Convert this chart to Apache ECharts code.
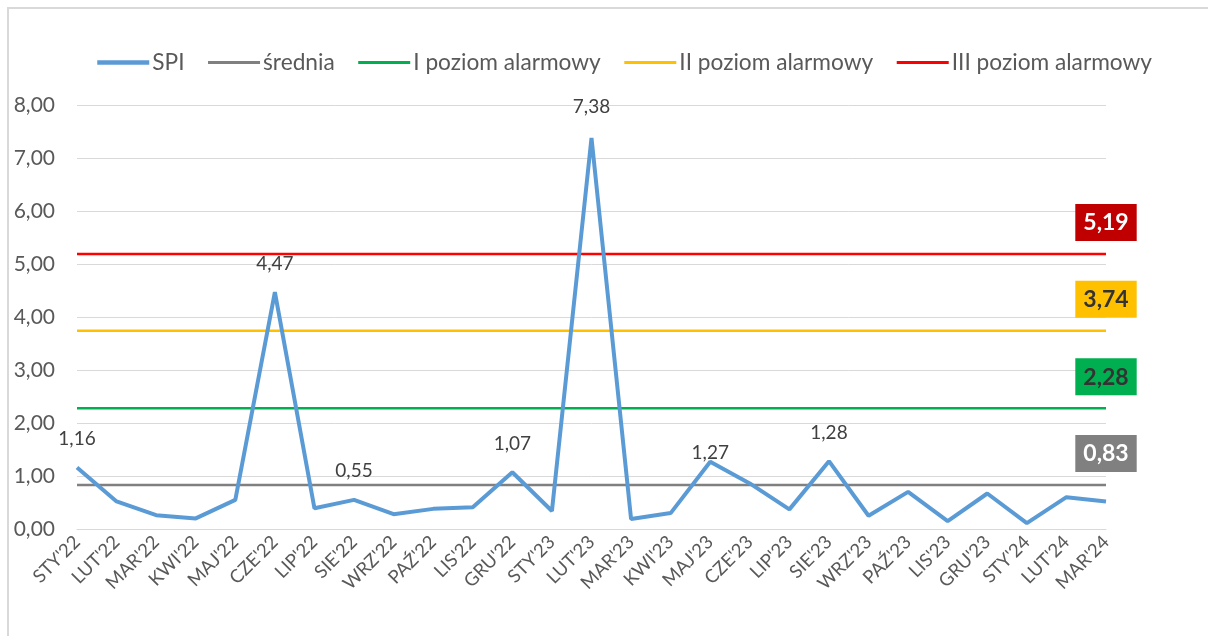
<!DOCTYPE html>
<html>
<head>
<meta charset="utf-8">
<script src="https://cdn.jsdelivr.net/npm/echarts@6/dist/echarts.min.js"></script>
<style>
  html, body { margin: 0; padding: 0; background: #fff; }
  #chart { width: 1208px; height: 636px; }
</style>
</head>
<body>
<div id="chart"></div>
<script>
// miesiace
const months = ["STY'22", "LUT'22", "MAR'22", "KWI'22", "MAJ'22", "CZE'22", "LIP'22", "SIE'22", "WRZ'22", "PAŹ'22", "LIS'22", "GRU'22",
  "STY'23", "LUT'23", "MAR'23", "KWI'23", "MAJ'23", "CZE'23", "LIP'23", "SIE'23", "WRZ'23", "PAŹ'23", "LIS'23", "GRU'23",
  "STY'24", "LUT'24", "MAR'24"];
const spi = [1.16, 0.52, 0.26, 0.20, 0.55, 4.47, 0.39, 0.55, 0.28, 0.38, 0.41, 1.07,
  0.34, 7.38, 0.19, 0.30, 1.27, 0.86, 0.37, 1.28, 0.25, 0.70, 0.15, 0.67,
  0.11, 0.60, 0.52];
// which points get a value label (index -> label distance)
const labelled = {0: 19, 5: 19, 7: 19, 11: 19, 13: 21, 16: -1, 19: 19};
const srednia = 0.83;
const poziom1 = 2.28;
const poziom2 = 3.74;
const poziom3 = 5.19;
const yTicks = [0, 1, 2, 3, 4, 5, 6, 7, 8];

const FONT = 'Lato';
const fmt = function(v) { return v.toFixed(2).replace('.', ','); };

const spiData = spi.map(function(v, i) {
  if (labelled[i] === undefined) return v;
  return {value: v, label: {show: true, position: 'top', distance: labelled[i]}};
});

function levelSeries(name, value, color, width, boxColor, textColor) {
  const data = months.map(function(m, i) {
    if (i < months.length - 1) return value;
    return {
      value: value,
      label: {
        show: true, position: 'top', distance: 13,
        formatter: fmt(value),
        backgroundColor: boxColor, color: textColor,
        fontFamily: FONT, fontSize: 23, fontWeight: 'bold',
        padding: [6, 8, 5, 8], lineHeight: 26
      }
    };
  });
  return {
    name: name, type: 'line', data: data, symbol: 'circle', symbolSize: 0,
    lineStyle: {color: color, width: width}, itemStyle: {color: color},
    label: {show: false},
    silent: true, z: 2
  };
}

const chart = echarts.init(document.getElementById('chart'));
chart.setOption({
  animation: false,
  backgroundColor: '#fff',
  graphic: [{
    type: 'rect', shape: {x: 8, y: 8, width: 1240, height: 660},
    style: {fill: 'none', stroke: '#d9d9d9', lineWidth: 2}, silent: true
  }],
  legend: {
    top: 46, left: 90,
    itemWidth: 52, itemHeight: 14, itemGap: 22,
    itemStyle: {opacity: 0},
    textStyle: {fontFamily: FONT, fontSize: 22.7, color: '#595959', padding: [0, 0, 0, -2]},
    data: [
      {name: 'SPI', lineStyle: {width: 4.5}},
      {name: 'średnia', lineStyle: {width: 3}},
      {name: 'I poziom alarmowy', lineStyle: {width: 3}},
      {name: 'II poziom alarmowy', lineStyle: {width: 3}},
      {name: 'III poziom alarmowy', lineStyle: {width: 3}}
    ]
  },
  grid: {left: 77, right: 102, top: 105, bottom: 107, containLabel: false},
  xAxis: {
    type: 'category', data: months, boundaryGap: false,
    axisLine: {show: true, lineStyle: {color: '#d9d9d9', width: 1}},
    axisTick: {show: false},
    axisLabel: {rotate: 45, fontFamily: FONT, fontSize: 18.5, color: '#595959', margin: 10, interval: 0}
  },
  yAxis: {
    type: 'value', min: yTicks[0], max: yTicks[yTicks.length - 1], interval: 1,
    axisLine: {show: false}, axisTick: {show: false},
    axisLabel: {fontFamily: FONT, fontSize: 21, color: '#595959', margin: 22, formatter: fmt},
    splitLine: {lineStyle: {color: '#d9d9d9', width: 1}}
  },
  series: [
    {
      name: 'SPI', type: 'line', data: spiData, symbol: 'circle', symbolSize: 0,
      lineStyle: {color: '#5B9BD5', width: 4}, itemStyle: {color: '#5B9BD5'},
      label: {show: false, fontFamily: FONT, fontSize: 19, color: '#404040', formatter: function(p) { return fmt(p.value); }},
      z: 5
    },
    levelSeries('średnia', srednia, '#808080', 2.5, '#808080', '#ffffff'),
    levelSeries('I poziom alarmowy', poziom1, '#00B050', 2.5, '#00B050', '#333333'),
    levelSeries('II poziom alarmowy', poziom2, '#FFC000', 2.5, '#FFC000', '#333333'),
    levelSeries('III poziom alarmowy', poziom3, '#FF0000', 2.5, '#C00000', '#ffffff')
  ]
});
</script>
</body>
</html>
